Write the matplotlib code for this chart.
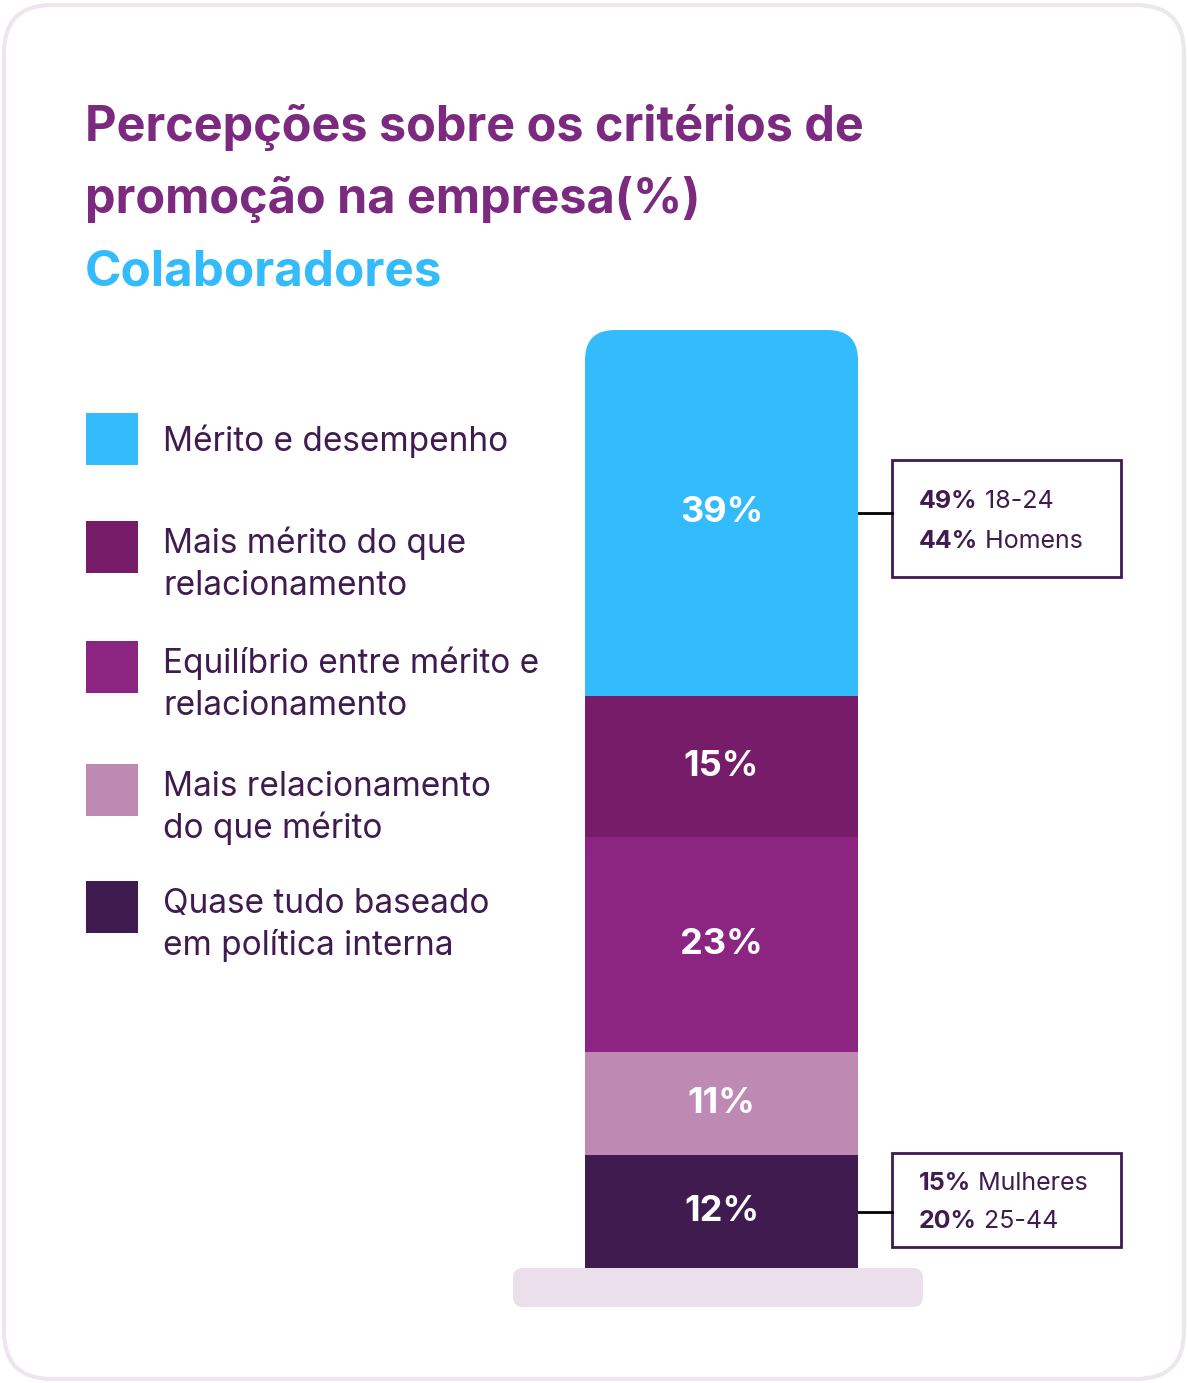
import matplotlib.pyplot as plt
from matplotlib.patches import FancyBboxPatch, Rectangle
from matplotlib.transforms import IdentityTransform

# data (bottom to top of the stacked bar)
categories = [
    "Quase tudo baseado\nem política interna",
    "Mais relacionamento\ndo que mérito",
    "Equilíbrio entre mérito e\nrelacionamento",
    "Mais mérito do que\nrelacionamento",
    "Mérito e desempenho",
]
values = [12, 11, 23, 15, 39]
colors = ["#3F1B4F", "#BE8AB3", "#8C2581", "#761C69", "#33BBFC"]

# call-outs: (bold part, plain part) per line
callout_top = [("49%", " 18-24"), ("44%", " Homens")]
callout_bottom = [("15%", " Mulheres"), ("20%", " 25-44")]

W, H = 1188, 1383
FONT = ["Inter", "DejaVu Sans"]
DARK = "#3F1B4F"
plt.rcParams["font.family"] = FONT


def fx(x):
    return x / W


def fy(y):
    return 1 - y / H


fig = plt.figure(figsize=(W / 100, H / 100), dpi=100)
fig.patch.set_facecolor("white")

# card background
card = FancyBboxPatch((4, 4), W - 8, H - 9, boxstyle="round,pad=0,rounding_size=48",
                      transform=IdentityTransform(), facecolor="white",
                      edgecolor="#EEE6EE", linewidth=3, zorder=-2)
fig.patches.append(card)

# titles
fig.text(fx(85), fy(141), "Percepções sobre os critérios de", fontsize=35,
         fontweight="bold", color="#7B2A7F", va="baseline")
fig.text(fx(85), fy(213), "promoção na empresa(%)", fontsize=35,
         fontweight="bold", color="#7B2A7F", va="baseline")
fig.text(fx(85), fy(286), "Colaboradores", fontsize=35.5,
         fontweight="bold", color="#33BBFC", va="baseline")

# base plate under the bar
base = FancyBboxPatch((513, H - 1307), 410, 39, boxstyle="round,pad=0,rounding_size=10",
                      transform=IdentityTransform(), facecolor="#EADFEA",
                      edgecolor="none", zorder=-1)
fig.patches.append(base)

# stacked bar
bx0, bx1, by0, by1 = 585, 858, 330, 1268
ax = fig.add_axes([fx(bx0), fy(by1), (bx1 - bx0) / W, (by1 - by0) / H])
ax.set_zorder(2)
ax.set_xlim(-0.5, 0.5)
ax.set_ylim(0, sum(values))
ax.axis("off")

clip = FancyBboxPatch((bx0, H - by1 - 60), bx1 - bx0, by1 - by0 + 60,
                      boxstyle="round,pad=0,rounding_size=30",
                      transform=IdentityTransform(), facecolor="none", edgecolor="none")

bottom = 0
mids = []
for v, c in zip(values, colors):
    bars = ax.bar(0, v, width=1.0, bottom=bottom, color=c, linewidth=0)
    for b in bars:
        b.set_clip_path(clip)
    mids.append(bottom + v / 2)
    ax.text(0, bottom + v / 2, f"{v}%", ha="center", va="center", color="white",
            fontsize=26, fontweight="bold")
    bottom += v

# legend (top to bottom)
leg_tops = [413, 521, 641, 764, 881]
leg_base = [451, 553, 673, 796, 913]
for top, yb, cat, c in zip(leg_tops, leg_base, categories[::-1], colors[::-1]):
    fig.patches.append(Rectangle((fx(86), fy(top + 52)), 52 / W, 52 / H,
                                 transform=fig.transFigure, facecolor=c, edgecolor="none"))
    for i, line in enumerate(cat.split("\n")):
        fig.text(fx(163), fy(yb + i * 42), line, fontsize=24, color=DARK,
                 va="baseline")


# call-out boxes
def callout(seg, box, lines, baselines):
    x0, y0, x1, y1 = box
    yd = ax.transData.transform((0, mids[seg]))[1]
    fig.add_artist(plt.Line2D([fx(bx1), fx(x0)], [yd / H, yd / H],
                              transform=fig.transFigure, color="black", lw=2))
    fig.patches.append(Rectangle((fx(x0), fy(y1)), (x1 - x0) / W, (y1 - y0) / H,
                                 transform=fig.transFigure, facecolor="white",
                                 edgecolor=DARK, linewidth=2))
    for (bold, plain), yb in zip(lines, baselines):
        t = fig.text(fx(x0 + 27), fy(yb), bold, fontsize=18, fontweight="bold",
                     color=DARK, va="baseline")
        ax.annotate(plain, xy=(1, 0), xycoords=t, va="bottom", ha="left",
                    fontsize=18, color=DARK, annotation_clip=False)


callout(4, (892, 460, 1121, 577), callout_top, [508, 548])
callout(0, (892, 1153, 1121, 1247), callout_bottom, [1190, 1228])

fig.savefig("out.png", dpi=100, facecolor="white")
